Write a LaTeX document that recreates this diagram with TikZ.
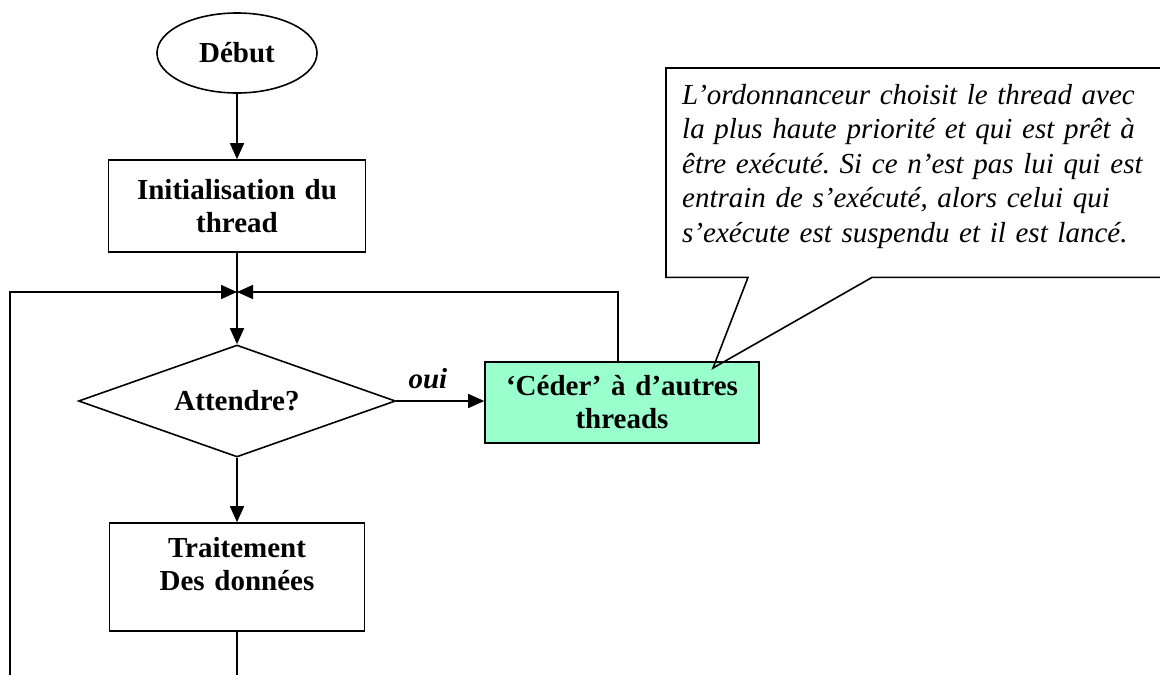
\documentclass[tikz,border=0pt]{standalone}
\usepackage{fontspec}
\setmainfont{Liberation Serif}
\usetikzlibrary{arrows.meta,shapes.geometric,calc}
\definecolor{mint}{RGB}{153,255,204}
\begin{document}
\frenchspacing
\begin{tikzpicture}[x=1pt,y=-1pt,
  every node/.style={font=\fontsize{29}{33}\selectfont\bfseries},
  flowline/.style={line width=1.6pt},
  flowarrow/.style={flowline,-{Triangle[length=16pt,width=14pt]}},
  procbox/.style={draw,line width=1.6pt,rectangle,align=center,inner sep=0pt,text width=250pt},
  startnode/.style={draw,line width=1.6pt,ellipse,inner sep=0pt,minimum width=160pt,minimum height=80pt},
  decision/.style={draw,line width=1.6pt,diamond,aspect=2.83,inner sep=0pt,minimum width=317pt,minimum height=112pt},
  notetext/.style={font=\fontsize{29}{34.5}\selectfont\itshape\mdseries,align=left,
    anchor=north west,inner xsep=16pt,inner ysep=0pt,text width=478pt,
    minimum width=510pt,minimum height=209pt},
  notebox/.style={line width=1.6pt,line join=miter}
]
\useasboundingbox (0,0) rectangle (1160,675);
\clip (0,0) rectangle (1160,675);

% flowchart blocks
\node[startnode] (debut) at (237,53) {Début};
\node[procbox,minimum width=257pt,minimum height=92pt] (init) at (237,206) {Initialisation du\\thread};
\coordinate (j) at (237,292);
\node[decision] (att) at (237,401) {Attendre?};
\node[procbox,fill=mint,minimum width=274pt,minimum height=81pt,text width=270pt] (ceder) at (622,402.5)
  {‘Céder’ à d’autres\\threads};
\node[procbox,minimum width=255pt,minimum height=108pt] (trait) at (237,577)
  {Traitement\\Des données\rule[-27pt]{0pt}{27pt}};
\coordinate (bl) at (10,675);

% connectors
\draw[flowarrow] (debut.south) -- (init.north);
\draw[flowline] (init.south) -- (j);
\draw[flowarrow] (bl) |- (j);
\draw[flowarrow] ([xshift=-4pt]ceder.north) |- (j);
\draw[flowarrow] (j) -- (att.north);
\draw[flowarrow] (att.east) -- node[pos=0.36,above=8pt,font=\fontsize{29}{33}\selectfont\bfseries\itshape] (oui) {oui} (att.east -| ceder.west);
\draw[flowarrow] (att.south) -- (trait.north);
\draw[flowline] (trait.south) -- (trait.south |- bl);

% speech bubble
\node[notetext] (note) at (666,68) {L’ordonnanceur choisit le thread avec\\
la plus haute priorité et qui est prêt à\\
être exécuté. Si ce n’est pas lui qui est\\
entrain de s’exécuté, alors celui qui\\
s’exécute est suspendu et il est lancé.\rule[-19pt]{0pt}{19pt}};
\draw[notebox] (note.north west) -- (note.north east) -- (note.south east)
  -- ($(note.south west)+(206,0)$) -- (713,368) -- ($(note.south west)+(82,0)$)
  -- (note.south west) -- cycle;
\end{tikzpicture}
\end{document}
